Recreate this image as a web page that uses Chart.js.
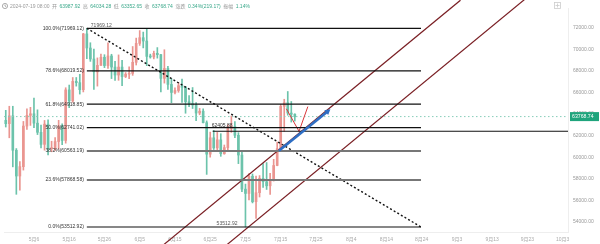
<!DOCTYPE html>
<html>
<head>
<meta charset="utf-8">
<script src="https://cdn.jsdelivr.net/npm/chart.js@4.4.1/dist/chart.umd.min.js"></script>
<style>
  html, body { margin: 0; padding: 0; background: #fff; }
  #wrap { width: 600px; height: 244px; }
</style>
</head>
<body>
<div id="wrap"><canvas id="c" width="600" height="244"></canvas></div>
<script>
// ===== data (daily candles, 4/27 .. 7/19) =====
const open  = [63750,63420,63110,63840,60640,58250,59120,62890,63890,64030,63160,62310,61190,63070,60790,60820,61450,62900,61550,66250,
               65230,67040,66920,66270,71450,70140,69120,67930,68530,69280,68510,69400,68370,67630,68370,67490,67710,67780,68810,70570,
               71100,70790,69360,69310,69650,69520,67320,68240,66760,66010,66190,66640,66490,65150,64960,64850,64100,64270,63200,60280,
               61800,60860,61610,60320,60890,62680,62850,62030,60200,57030,56630,58230,55860,56700,58040,57720,57340,57900,59230,60790,
               64720,65060,64100,63987.92];
const high  = [63900,64350,64730,64730,60800,59600,63320,64500,64630,65500,64400,62970,63410,63460,61480,61820,63420,63100,66450,66700,
               67400,67400,67700,71500,71969.12,70630,70040,69220,69580,69520,70610,69560,68900,69500,69000,67860,68400,70280,71060,71760,
               71620,71950,69570,69850,70180,69560,69980,68440,67300,66440,66950,67250,66570,65730,66470,65070,64530,64500,63370,62330,
               62490,62300,62180,61130,63000,63820,63300,62280,60500,57500,58480,58440,58240,58290,59400,59500,58500,59800,61400,64900,
               65380,66100,65170,64034.28];
const low   = [62800,62800,61800,59100,56550,56940,58800,62580,62950,62750,62100,60850,60650,60200,60500,60620,60760,61150,61300,64600,
               65110,66600,65860,66060,69160,68900,66300,66600,68530,68320,68250,67300,67120,67140,66650,67390,67300,67600,68560,70380,
               70150,68500,69200,69130,69200,66050,66880,66300,65060,65880,66030,65080,64080,64690,64520,63390,63940,63180,58400,60000,
               60710,60630,60080,60270,60700,62300,61800,59400,56800,53512.92,56020,55750,54300,56300,57200,57000,56550,57780,59200,60630,
               62400,63900,63260,63352.65];
const close = [63420,63110,63840,60640,58250,59120,62890,63890,64030,63160,62310,61190,63070,60790,60820,61450,62900,61550,66250,65230,
               67040,66920,66270,71450,70140,69120,67930,68530,69280,68510,69400,68370,67630,68370,67490,67710,67780,68810,70570,71100,
               70790,69360,69310,69650,69520,67320,68240,66760,66010,66190,66640,66490,65150,64960,64850,64100,64270,63200,60280,61800,
               60860,61610,60320,60890,62680,62850,62030,60200,57030,56630,58230,55860,56700,58040,57720,57340,57900,59230,60790,64720,
               65060,64100,63990,63768.74];

const xTickDays   = [9, 19, 29, 39, 49, 59, 69, 79, 89, 99, 109, 119, 129, 139, 149, 159];
const xTickLabels = ['5月6','5月16','5月26','6月5','6月15','6月25','7月5','7月15','7月25','8月4','8月14','8月24','9月3','9月13','9月23','10月3'];
const yTicks = [54000, 56000, 58000, 60000, 62000, 64000, 66000, 68000, 70000, 72000];

// fibonacci retracement tool (day range + levels)
const fibDays = [24, 118.8];
const fibPct  = ['100.0%', '78.6%', '61.8%', '50.0%', '38.2%', '23.6%', '0.0%'];
const fibVals = [71969.12, 68019.52, 64918.85, 62741.02, 60563.19, 57868.58, 53512.92];

// other drawings
const levelDays = [59.7, 160.5];  const levelVal = 62405.88;
const lastPrice = 63768.74;
const ch1Days = [45, 130];  const ch1Vals = [51652, 74585];
const ch2Days = [62, 150];  const ch2Vals = [51398, 75140];
const arrowDays = [78.5, 92.3]; const arrowVals = [60600, 64250];
const hookDays = [80.6, 84.2, 86.7]; const hookVals = [64500, 62400, 64700];

const header = [
  ['2024-07-19 08:00', 'g'], ['开', 'g'], ['63987.92', 'v'], ['高', 'g'], ['64034.28', 'v'],
  ['低', 'g'], ['63352.65', 'v'], ['收', 'g'], ['63768.74', 'v'], ['涨跌', 'g'], ['0.34%(219.17)', 'v'],
  ['振幅', 'g'], ['1.14%', 'v']
];

// ===== styles =====
const UP = '#ea9590', DOWN = '#6cc3ab';
const FONT = '"Liberation Sans", "Noto Sans CJK SC", sans-serif';
const candleColor = open.map((o, i) => close[i] >= o ? UP : DOWN);
const pts = (xs, ys) => xs.map((d, i) => ({ x: d, y: ys[i] }));
const line = (data, color, width, extra = {}) => ({
  type: 'line', data, borderColor: color, borderWidth: width, pointRadius: 0,
  fill: false, tension: 0, order: 1, ...extra
});

const fibSets = fibVals.map((v, k) => {
  const gray = k === 4 || k === 5;
  return line(pts(fibDays, [v, v]), gray ? '#777' : '#111', gray ? 2 : 1.2);
});

function arrowAngle(ctx) {
  const { x, y } = ctx.chart.scales;
  const dx = x.getPixelForValue(arrowDays[1]) - x.getPixelForValue(arrowDays[0]);
  const dy = y.getPixelForValue(arrowVals[1]) - y.getPixelForValue(arrowVals[0]);
  return Math.atan2(dy, dx) * 180 / Math.PI + 90;
}

const overlay = {
  id: 'overlay',
  afterDatasetsDraw(chart) {
    const { ctx, scales: { x, y } } = chart;
    ctx.save();
    ctx.font = '5px ' + FONT;
    ctx.fillStyle = '#333';
    ctx.textBaseline = 'middle';
    ctx.textAlign = 'right';
    fibVals.forEach((v, k) => {
      ctx.fillText(fibPct[k] + '(' + v.toFixed(2) + ')', x.getPixelForValue(fibDays[0]) - 3, y.getPixelForValue(v));
    });
    ctx.fillStyle = '#555';
    ctx.fillText(fibVals[6].toFixed(2), x.getPixelForValue(69) - 8, y.getPixelForValue(fibVals[6]) - 3);
    ctx.textAlign = 'left';
    ctx.fillText(fibVals[0].toFixed(2), x.getPixelForValue(24) + 4, y.getPixelForValue(fibVals[0]) - 3);
    ctx.fillStyle = '#333';
    ctx.fillText(levelVal.toFixed(2), x.getPixelForValue(levelDays[0]) - 1, y.getPixelForValue(levelVal) - 6);
    ctx.restore();
  },
  afterDraw(chart) {
    const { ctx, chartArea, scales: { y } } = chart;
    ctx.save();
    // header
    ctx.font = '5px ' + FONT;
    ctx.textBaseline = 'middle';
    ctx.textAlign = 'left';
    ctx.strokeStyle = '#999'; ctx.lineWidth = 0.8;
    ctx.beginPath(); ctx.arc(5, 6, 2.6, 0, Math.PI * 2); ctx.stroke();
    ctx.beginPath(); ctx.moveTo(5, 4.5); ctx.lineTo(5, 6); ctx.lineTo(6.3, 6.8); ctx.stroke();
    let hx = 10;
    header.forEach(([t, k]) => {
      ctx.fillStyle = k === 'v' ? '#3aa88a' : '#999';
      ctx.fillText(t, hx, 6.5);
      hx += ctx.measureText(t).width + 2.5;
    });
    // last price tag
    const py = y.getPixelForValue(lastPrice);
    ctx.fillStyle = '#1fa47c';
    ctx.fillRect(chartArea.right + 2, py - 4.5, 29, 9);
    ctx.fillStyle = '#fff';
    ctx.font = '5.2px ' + FONT;
    ctx.fillText(lastPrice.toFixed(2), chartArea.right + 4, py + 0.3);
    // small toolbar icon
    ctx.strokeStyle = '#ccc'; ctx.lineWidth = 0.8;
    ctx.strokeRect(554.5, 2.5, 6, 6);
    ctx.beginPath(); ctx.moveTo(557.5, 3.5); ctx.lineTo(557.5, 7.5); ctx.moveTo(555.5, 5.5); ctx.lineTo(559.5, 5.5); ctx.stroke();
    ctx.restore();
  }
};

new Chart(document.getElementById('c'), {
  type: 'bar',
  data: {
    datasets: [
      ...fibSets,
      line(pts(fibDays, [fibVals[0], fibVals[6]]), '#111', 1.4, { borderDash: [2, 2.2] }),
      line(pts(levelDays, [levelVal, levelVal]), '#111', 1.2),
      line(pts([0.5, 160.5], [lastPrice, lastPrice]), '#86cdb9', 1, { borderDash: [1.5, 2.5], order: 2 }),
      line(pts(ch1Days, ch1Vals), '#7a1f24', 1.2, { clip: { left: 0, top: 20, right: 0, bottom: 12 } }),
      line(pts(ch2Days, ch2Vals), '#7a1f24', 1.2, { clip: { left: 0, top: 20, right: 0, bottom: 12 } }),
      line(pts(hookDays, hookVals), '#d8373a', 1),
      line(pts(arrowDays, arrowVals), '#2f6fc4', 2.6, {
        order: 0,
        pointRadius: c => c.dataIndex === 1 ? 3.6 : 0,
        pointStyle: 'triangle',
        pointRotation: arrowAngle,
        pointBackgroundColor: '#2f6fc4',
        pointBorderWidth: 0
      }),
      {
        data: open.map((o, i) => ({ x: i, y: [o, close[i]] })),
        backgroundColor: candleColor, barThickness: 2, grouped: false, order: 5, minBarLength: 1
      },
      {
        data: open.map((o, i) => ({ x: i, y: [low[i], high[i]] })),
        backgroundColor: candleColor, barThickness: 1, grouped: false, order: 6
      }
    ]
  },
  options: {
    responsive: false,
    animation: false,
    devicePixelRatio: 1,
    layout: { padding: 0 },
    plugins: { legend: { display: false }, tooltip: { enabled: false } },
    scales: {
      x: {
        type: 'linear', min: 0.5, max: 160.5, offset: false,
        grid: { display: false, drawTicks: false },
        border: { color: '#eeeeee' },
        afterFit: s => { s.height = 12; },
        afterBuildTicks: s => { s.ticks = xTickDays.map(v => ({ value: v })); },
        ticks: {
          color: '#aaa', font: { size: 5, family: FONT }, padding: 5, maxRotation: 0, autoSkip: false,
          callback: v => xTickLabels[xTickDays.indexOf(v)]
        }
      },
      y: {
        position: 'right', min: 53049, max: 73857,
        grid: { display: false, drawTicks: false },
        border: { color: '#eeeeee' },
        afterFit: s => { s.width = 32; },
        afterBuildTicks: s => { s.ticks = yTicks.map(v => ({ value: v })); },
        ticks: {
          color: '#999', font: { size: 5, family: FONT }, padding: 5,
          callback: v => v.toFixed(2)
        }
      }
    }
  },
  plugins: [overlay]
});
</script>
</body>
</html>
